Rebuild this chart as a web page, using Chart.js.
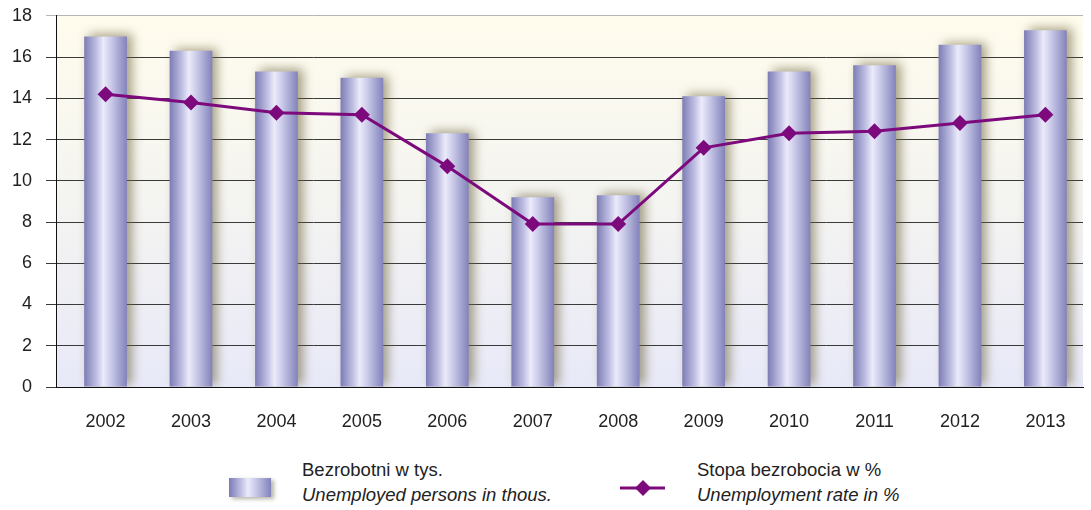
<!DOCTYPE html>
<html>
<head>
<meta charset="utf-8">
<script src="https://cdn.jsdelivr.net/npm/chart.js@4/dist/chart.umd.min.js"></script>
<style>
  html, body { margin: 0; padding: 0; background: #fff; overflow: hidden; }
  #wrap { position: relative; width: 1091px; height: 510px; overflow: hidden; font-family: "Liberation Sans", Arial, sans-serif; }
  #c { position: absolute; left: 0; top: -9px; }
  .leg { position: absolute; font-size: 18.5px; color: #222; line-height: 25px; }
  .leg i { display: block; }
  .sw { position: absolute; }
</style>
</head>
<body>
<div id="wrap">
  <canvas id="c" width="1091" height="449"></canvas>
  <div class="sw" id="swBar" style="left:229px;top:478px;width:42px;height:19px;box-shadow:3px 2px 4px rgba(90,90,60,0.45);"></div>
  <div class="leg" style="left:302px;top:457px;">Bezrobotni w tys.<i>Unemployed persons in thous.</i></div>
  <canvas class="sw" id="swLine" width="50" height="24" style="left:618px;top:476px;"></canvas>
  <div class="leg" style="left:697px;top:457px;">Stopa bezrobocia w %<i>Unemployment rate in %</i></div>
</div>
<script>
const years = [2002, 2003, 2004, 2005, 2006, 2007, 2008, 2009, 2010, 2011, 2012, 2013];
const unemployed = [17.0, 16.3, 15.3, 15.0, 12.3, 9.2, 9.3, 14.1, 15.3, 15.6, 16.6, 17.3];
const rate = [14.2, 13.8, 13.3, 13.2, 10.7, 7.9, 7.9, 11.6, 12.3, 12.4, 12.8, 13.2];
const yTicks = [0, 2, 4, 6, 8, 10, 12, 14, 16, 18];

const purple = '#7d0a7d';
const barStops = [[0, '#7c7cb5'], [0.3, '#c2c2e5'], [0.45, '#ebebfa'], [0.6, '#d0d0ed'], [1, '#8282ba']];

function barGradient(ctx2d, x0, x1) {
    const g = ctx2d.createLinearGradient(x0, 0, x1, 0);
    barStops.forEach(s => g.addColorStop(s[0], s[1]));
    return g;
}

// legend swatches
document.getElementById('swBar').style.background =
    'linear-gradient(to right,' + barStops.map(s => s[1] + ' ' + (s[0] * 100) + '%').join(',') + ')';
(function () {
    const cv = document.getElementById('swLine');
    const c = cv.getContext('2d');
    c.strokeStyle = purple; c.lineWidth = 3;
    c.beginPath(); c.moveTo(2, 12); c.lineTo(47, 12); c.stroke();
    c.fillStyle = purple;
    c.beginPath(); c.moveTo(25, 4); c.lineTo(33, 12); c.lineTo(25, 20); c.lineTo(17, 12); c.closePath(); c.fill();
})();

const bgPlugin = {
    id: 'plotBg',
    beforeDraw(chart) {
        const { ctx, chartArea: a } = chart;
        const g = ctx.createLinearGradient(0, a.top, 0, a.bottom);
        g.addColorStop(0, '#fffced');
        g.addColorStop(0.5, '#f4f4f1');
        g.addColorStop(1, '#e8e9f8');
        ctx.save();
        ctx.fillStyle = g;
        ctx.fillRect(a.left, a.top, a.right - a.left, a.bottom - a.top);
        ctx.restore();
    }
};

// miekki cien za slupkami
const shadowPlugin = {
    id: 'barShadow',
    beforeDatasetDraw(chart, args) {
        if (args.index !== 0) return;
        const ctx = chart.ctx;
        ctx.save();
        ctx.shadowColor = 'rgba(110,100,60,0.6)';
        ctx.shadowBlur = 10;
        ctx.shadowOffsetX = 5;
        ctx.shadowOffsetY = -2;
    },
    afterDatasetDraw(chart, args) {
        if (args.index !== 0) return;
        chart.ctx.restore();
    }
};

new Chart(document.getElementById('c'), {
    type: 'bar',
    data: {
        datasets: [{
            type: 'bar',
            label: 'Bezrobotni w tys.',
            data: years.map((y, i) => ({ x: y, y: unemployed[i] })),
            backgroundColor: (ctx) => {
                const chart = ctx.chart;
                const xs = chart.scales.x;
                if (!chart.chartArea || !xs || ctx.dataIndex === undefined) return '#b0b0dc';
                const cx = xs.getPixelForValue(years[ctx.dataIndex]);
                const w = Math.abs(xs.getPixelForValue(2003) - xs.getPixelForValue(2002)) * 0.5;
                if (!isFinite(cx) || !isFinite(w) || w <= 0) return '#b0b0dc';
                return barGradient(chart.ctx, cx - w / 2, cx + w / 2);
            },
            borderWidth: 0,
            categoryPercentage: 1,
            barPercentage: 0.5,
            order: 2
        }, {
            type: 'line',
            label: 'Stopa bezrobocia w %',
            data: years.map((y, i) => ({ x: y, y: rate[i] })),
            borderColor: purple,
            borderWidth: 3,
            backgroundColor: purple,
            pointStyle: 'rectRot',
            pointRadius: 8,
            pointBackgroundColor: purple,
            pointBorderWidth: 0,
            tension: 0,
            order: 1
        }]
    },
    options: {
        responsive: false,
        animation: false,
        layout: { padding: { top: 5, right: 0, left: 0, bottom: 0 } },
        plugins: { legend: { display: false }, tooltip: { enabled: false } },
        scales: {
            x: {
                type: 'linear',
                offset: false,
                min: 2001.42,
                max: 2013.44,
                afterFit: (s) => { s.height = 53; },
                grid: { display: false, offset: false },
                border: { display: true, color: '#111', width: 1 },
                ticks: {
                    stepSize: 1,
                    includeBounds: false,
                    padding: 16,
                    color: '#222',
                    font: { family: 'Liberation Sans', size: 18 },
                    callback: (v) => String(v)
                }
            },
            y: {
                min: 0,
                max: 18,
                afterFit: (s) => { s.width = 56; },
                afterBuildTicks: (s) => { s.ticks = yTicks.map(v => ({ value: v })); },
                grid: {
                    color: (ctx) => (ctx.tick && ctx.tick.value === 18) ? '#b5b5b5' : '#3a3a3a',
                    lineWidth: 1,
                    tickLength: 10,
                    drawTicks: true
                },
                border: { display: true, color: '#111', width: 1 },
                ticks: {
                    padding: 14,
                    color: '#222',
                    font: { family: 'Liberation Sans', size: 18 }
                }
            }
        }
    },
    plugins: [bgPlugin, shadowPlugin]
});
</script>
</body>
</html>
